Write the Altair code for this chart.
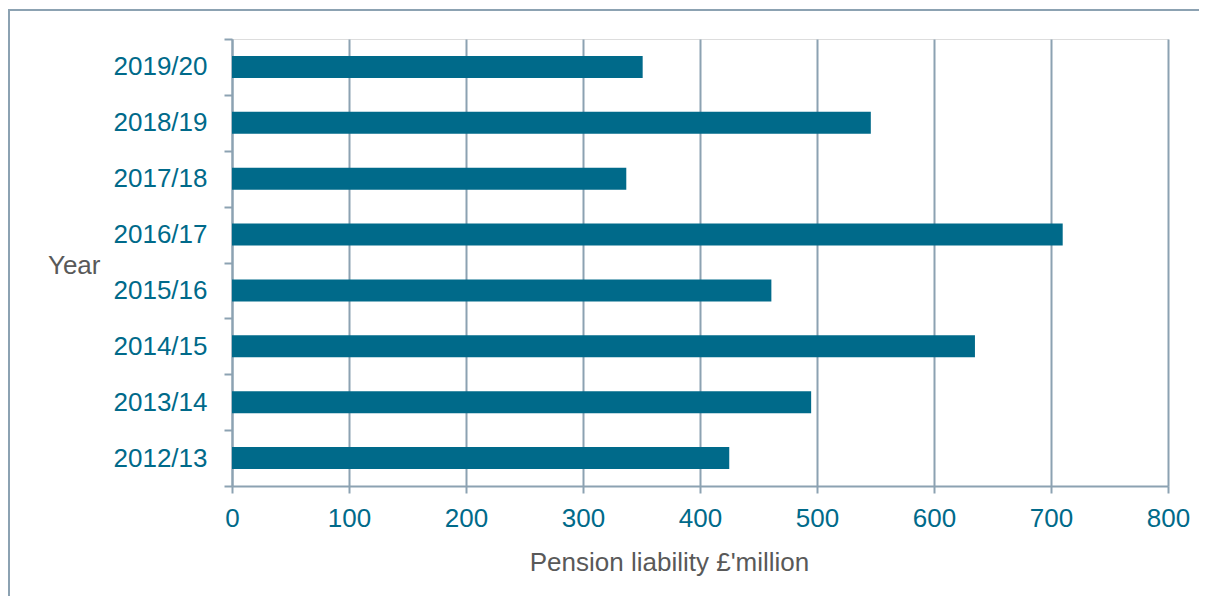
import altair as alt
import pandas as pd

years = ["2019/20", "2018/19", "2017/18", "2016/17", "2015/16", "2014/15", "2013/14", "2012/13"]
liability = [351, 546, 337, 710, 461, 635, 495, 425]

df = pd.DataFrame({"Year": years, "Liability": liability})

W, H = 936, 447
FONT = "Liberation Sans"
GRID = "#8CA2B2"
TEAL = "#006A8A"

bars = alt.Chart(df).mark_bar(color=TEAL, size=22).encode(
    x=alt.X("Liability:Q",
            scale=alt.Scale(domain=[0, 800], nice=False),
            axis=alt.Axis(values=[0, 100, 200, 300, 400, 500, 600, 700, 800],
                          title="Pension liability £'million",
                          grid=True, gridColor=GRID, gridWidth=2,
                          domainColor=GRID, domainWidth=2,
                          tickColor=GRID, tickWidth=2, tickSize=7,
                          labelColor=TEAL, labelFontSize=26, labelFont=FONT,
                          labelPadding=12, labelFlush=False,
                          titleColor="#595959", titleFontSize=26, titleFont=FONT,
                          titleFontWeight="normal",
                          titleX=437, titleY=76, titleBaseline="middle")),
    y=alt.Y("Year:N", sort=years,
            scale=alt.Scale(paddingInner=0, paddingOuter=0),
            axis=alt.Axis(title="Year", tickBand="extent",
                          domainColor=GRID, domainWidth=2,
                          tickColor=GRID, tickWidth=2, tickSize=8,
                          labelColor=TEAL, labelFontSize=26, labelFont=FONT,
                          labelPadding=17,
                          titleColor="#595959", titleFontSize=26, titleFont=FONT,
                          titleFontWeight="normal", titleAngle=0,
                          titleAlign="right", titleBaseline="middle",
                          titleX=-132, titleY=226)),
)

border_top = alt.Chart(df).mark_rule(color=GRID, strokeWidth=2).encode(
    x=alt.value(-224), x2=alt.value(W + 100), y=alt.value(-29))
border_left = alt.Chart(df).mark_rule(color=GRID, strokeWidth=2).encode(
    x=alt.value(-223), y=alt.value(-29), y2=alt.value(H + 200))

chart = alt.layer(border_top, border_left, bars).properties(
    width=W, height=H,
    autosize=alt.AutoSizeParams(type="none"),
    padding={"left": 224, "top": 31, "right": 31, "bottom": 110},
).configure_view(stroke=None).configure(background="white")

chart.save("out.html", embed_options={"renderer": "svg", "actions": False})
